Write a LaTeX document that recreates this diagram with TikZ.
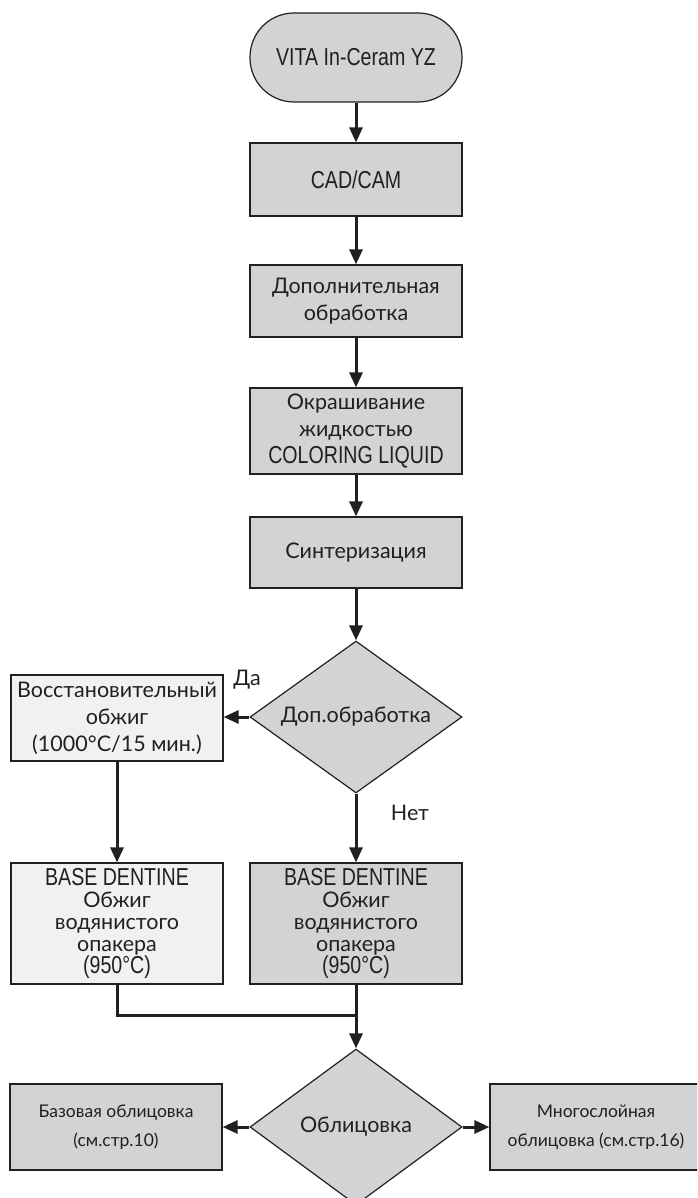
\documentclass[tikz,border=0pt]{standalone}
\usepackage{fontspec}
\setmainfont{Lato}
\newfontfamily\condfont[FakeStretch=0.8]{Liberation Sans}
\usetikzlibrary{arrows.meta, shapes.geometric}
\usepackage{xcolor}
\definecolor{ink}{RGB}{35,31,32}
\definecolor{boxgray}{RGB}{209,211,212}
\definecolor{paler}{RGB}{241,241,242}
\newcommand{\cond}[1]{{\condfont\fontsize{24.5}{27}\selectfont #1}}

\begin{document}
\begin{tikzpicture}[
    x=1pt, y=-1pt,
    >={Triangle[length=15pt,width=13pt]},
    every node/.style={font=\fontsize{21.5}{27}\selectfont, text=ink},
    stepbox/.style={draw=ink, line width=1.2pt, fill=boxgray, minimum width=212pt, inner sep=0pt, align=center},
    lightbox/.style={stepbox, fill=paler},
    terminal/.style={stepbox, rounded corners=44pt, minimum height=89pt},
    decision/.style={diamond, draw=ink, line width=1.2pt, fill=boxgray, aspect=1.4, inner sep=0pt, minimum width=212pt, minimum height=152pt},
    flow/.style={->, line width=3pt, draw=ink},
    tight/.style={font=\fontsize{21.5}{22}\selectfont},
    small/.style={font=\fontsize{17.5}{29}\selectfont}
]
\path[use as bounding box] (0,0) rectangle (697,1198);
\clip (0,0) rectangle (697,1198);

% Nodes placed manually, main column
\node[terminal] (vita) at (356,57.5) {\cond{VITA In-Ceram YZ}};
\node[stepbox, minimum height=73pt] (cad) at (356,179.5) {\cond{CAD/CAM}};
\node[stepbox, minimum height=72pt] (extra) at (356,301) {Дополнительная\\обработка};
\node[stepbox, minimum height=86pt] (color) at (356,431) {Окрашивание\\жидкостью\\\cond{COLORING LIQUID}};
\node[stepbox, minimum height=71pt] (sinter) at (356,552.5) {Синтеризация};
\node[decision] (check) at (356,717) {Доп.обработка};
\node[stepbox, tight, minimum height=121pt] (baseR) at (356,923.5) {\cond{BASE DENTINE}\\Обжиг\\водянистого\\опакера\\\cond{(950°C)}};
\node[decision, minimum height=156pt] (veneer) at (356,1127) {Облицовка};

% side branch
\node[lightbox, minimum height=86pt] (regen) at (117,718) {Восстановительный\\обжиг\\(1000°C/15 мин.)};
\node[lightbox, tight, minimum height=121pt] (baseL) at (117,923.5) {\cond{BASE DENTINE}\\Обжиг\\водянистого\\опакера\\\cond{(950°C)}};
\node[stepbox, small, minimum height=86pt] (basic) at (116,1127) {Базовая облицовка\\(см.стр.10)};
\node[stepbox, small, minimum height=86pt] (multi) at (596,1127) {Многослойная\\облицовка (см.стр.16)};

% labels
\node (yes) at (247,680) {Да};
\node (no) at (410,813) {Нет};
\coordinate (join) at (356,1015);

% Arrows
\draw[flow] (vita) -- (cad);
\draw[flow] (cad) -- (extra);
\draw[flow] (extra) -- (color);
\draw[flow] (color) -- (sinter);
\draw[flow] (sinter) -- (check);
\draw[flow] (check.west) -- (check.west -| regen.east);
\draw[flow] (regen) -- (baseL);
\draw[flow] (check) -- (baseR);
\draw[line width=3pt, draw=ink] (baseL.south) |- (join);
\draw[flow] (baseR) -- (veneer);
\draw[flow] (veneer) -- (basic);
\draw[flow] (veneer) -- (multi);
\end{tikzpicture}
\end{document}
